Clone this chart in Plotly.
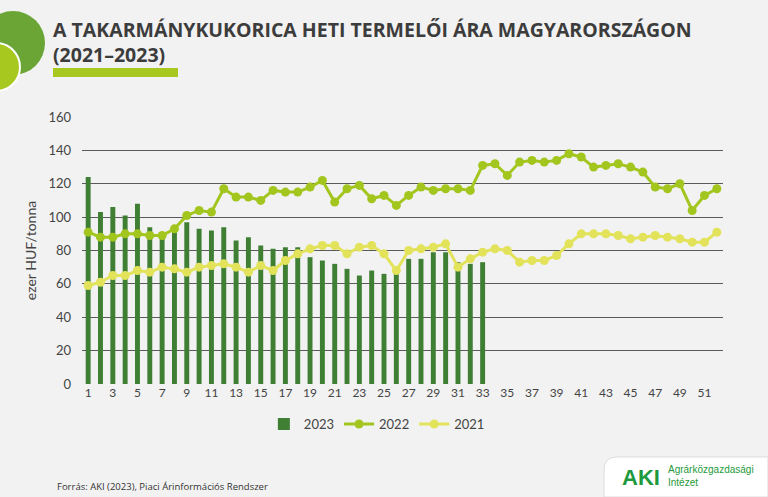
import plotly.graph_objects as go

weeks = list(range(1, 53))

ar_2023 = [124, 103, 106, 101, 108, 94, 90, 92, 97, 93, 92, 94, 86, 88, 83, 81, 82,
           82, 76, 74, 72, 69, 65, 68, 66, 66, 75, 75, 79, 79, 73, 72, 73]

ar_2022 = [91, 88, 88, 90, 90, 89, 89, 93, 101, 104, 103, 117, 112, 112, 110, 116, 115,
           115, 118, 122, 109, 117, 119, 111, 113, 107, 113, 118, 116, 117, 117, 116, 131,
           132, 125, 133, 134, 133, 134, 138, 136, 130, 131, 132, 130, 127, 118, 117, 120,
           104, 113, 117]

ar_2021 = [59, 61, 65, 65, 68, 67, 70, 69, 67, 70, 71, 72, 70, 67, 71, 68, 74,
           78, 81, 83, 83, 78, 82, 83, 78, 68, 80, 81, 82, 84, 70, 75, 79,
           81, 80, 73, 74, 74, 77, 84, 90, 90, 90, 89, 87, 88, 89, 88, 87,
           85, 85, 91]

tick_weeks = list(range(1, 53, 2))

# plot terület pixelekben: x 82..723, y 117..384
L, R, T, B = 82, 723, 117, 384
W, H = R - L, B - T


def px(x):
    return (x - L) / W


def py(y):
    return (B - y) / H


fig = go.Figure()

fig.add_trace(go.Bar(x=weeks[:len(ar_2023)], y=ar_2023, name='2023',
                     marker=dict(color='#3f7f34', line=dict(width=0))))
fig.add_trace(go.Scatter(x=weeks, y=ar_2022, name='2022', mode='lines+markers',
                         line=dict(color='#a3c61f', width=3),
                         marker=dict(color='#a3c61f', size=9)))
fig.add_trace(go.Scatter(x=weeks, y=ar_2021, name='2021', mode='lines+markers',
                         line=dict(color='#e2e35a', width=3),
                         marker=dict(color='#e2e35a', size=9)))

# díszítő körök és aláhúzás
fig.add_shape(type='circle', xref='paper', yref='paper', layer='above',
              x0=px(-19), x1=px(45), y0=py(75), y1=py(11),
              fillcolor='#6aa535', line=dict(width=0))
fig.add_shape(type='circle', xref='paper', yref='paper', layer='above',
              x0=px(-28), x1=px(20), y0=py(91), y1=py(43),
              fillcolor='#a7c81e', line=dict(width=2, color='white'))
fig.add_shape(type='rect', xref='paper', yref='paper',
              x0=px(53), x1=px(178), y0=py(77), y1=py(68),
              fillcolor='#a7c81e', line=dict(width=0))

# logó doboz
fig.add_shape(type='path', xref='paper', yref='paper', layer='above',
              path='M {a},{b} L {a},{c} Q {a},{d} {e},{d} L {f},{d} L {f},{b} Z'.format(
                  a=px(604), b=py(497), c=py(470), d=py(457), e=px(617), f=px(768)),
              fillcolor='white', line=dict(width=1, color='#dddddd'))

fig.add_annotation(xref='paper', yref='paper', x=px(620), y=py(477),
                   text='<b>AKI</b>', showarrow=False, xanchor='left', yanchor='middle',
                   font=dict(family='Liberation Sans', size=22, color='#1e9a3c'))
fig.add_annotation(xref='paper', yref='paper', x=px(666), y=py(476),
                   text='Agrárközgazdasági<br>Intézet', showarrow=False, align='left',
                   xanchor='left', yanchor='middle',
                   font=dict(family='Liberation Sans', size=10, color='#1e9a3c'))

fig.add_annotation(xref='paper', yref='paper', x=px(51), y=py(42),
                   text='<b>A TAKARMÁNYKUKORICA HETI TERMELŐI ÁRA MAGYARORSZÁGON<br>(2021–2023)</b>',
                   showarrow=False, xanchor='left', yanchor='middle', align='left',
                   font=dict(family='Open Sans', size=19.5, color='#3c3c3c'))
fig.add_annotation(xref='paper', yref='paper', x=px(55), y=py(486),
                   text='Forrás: AKI (2023), Piaci Árinformációs Rendszer',
                   showarrow=False, xanchor='left', yanchor='middle',
                   font=dict(family='Open Sans', size=9.5, color='#333333'))

fig.update_layout(
    width=768, height=497,
    margin=dict(l=L, r=768 - R, t=T, b=497 - B),
    paper_bgcolor='#f2f2f2', plot_bgcolor='#f2f2f2',
    bargap=0.6,
    font=dict(family='Lato', color='#444444', size=13),
    showlegend=True,
    legend=dict(orientation='h', x=0.46, xanchor='center', y=py(424), yanchor='middle',
                font=dict(size=13, color='#444444'), bgcolor='rgba(0,0,0,0)',
                itemwidth=30, tracegroupgap=0),
    xaxis=dict(range=[0.5, 52.5], tickmode='array', tickvals=tick_weeks,
               ticktext=[str(w) for w in tick_weeks], showgrid=False, zeroline=False,
               showline=False, ticks='', tickfont=dict(size=12)),
    yaxis=dict(range=[0, 160], dtick=20, showgrid=True, gridcolor='#5a5a5a', gridwidth=1,
               zeroline=False, showline=False, ticks='', ticklabelstandoff=10,
               tickfont=dict(size=13),
               title=dict(text='ezer HUF/tonna', font=dict(size=14, color='#444444'),
                          standoff=8)),
)

fig.write_html("out.html", config={'displayModeBar': False},
               post_script="document.body.style.margin='0';document.body.style.background='#f2f2f2';")
